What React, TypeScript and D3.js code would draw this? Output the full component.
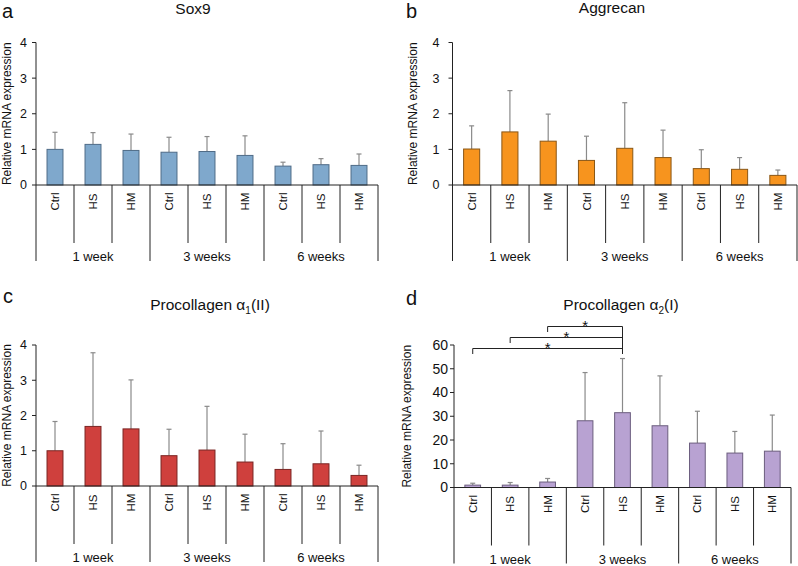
import React from "react";
import * as d3 from "d3";

// ---------- data ----------
const conditions = ["Ctrl", "HS", "HM"];
const periods = ["1 week", "3 weeks", "6 weeks"];

const sox9Mean = [1.0, 1.14, 0.97, 0.92, 0.94, 0.83, 0.53, 0.57, 0.55];
const sox9Sd = [0.48, 0.33, 0.46, 0.42, 0.42, 0.55, 0.11, 0.17, 0.32];

const aggrecanMean = [1.01, 1.49, 1.23, 0.69, 1.03, 0.77, 0.46, 0.44, 0.27];
const aggrecanSd = [0.65, 1.16, 0.76, 0.68, 1.28, 0.77, 0.53, 0.33, 0.15];

const col2a1Mean = [1.0, 1.69, 1.62, 0.86, 1.02, 0.68, 0.47, 0.63, 0.3];
const col2a1Sd = [0.83, 2.09, 1.39, 0.75, 1.24, 0.79, 0.73, 0.93, 0.29];

const col1a2Mean = [1.0, 1.0, 2.3, 28.1, 31.5, 26.0, 18.7, 14.5, 15.3];
const col1a2Sd = [0.8, 1.1, 1.5, 20.3, 22.8, 21.0, 13.4, 9.1, 15.2];

const ticks0to4 = [0, 1, 2, 3, 4];
const ticks0to60 = [0, 10, 20, 30, 40, 50, 60];

// significance brackets in panel d: [from bar, to bar]
const sigPairs = [
  [0, 4],
  [1, 4],
  [2, 4],
];
const sigLabels = ["*", "*", "*"];

const yLabel = "Relative mRNA expression";
const FONT = "Arial, 'Liberation Sans', sans-serif";

const categories = periods.flatMap((p) => conditions.map((c) => `${p}|${c}`));

type PanelProps = {
  letter: string;
  title: React.ReactNode;
  mean: number[];
  sd: number[];
  ticks: number[];
  fill: string;
  stroke: string;
  x0: number;
  x1: number;
  yTop: number;
  yBottom: number;
  titleX: number;
  titleY: number;
  letterX: number;
  letterY: number;
  labelX: number;
  tickGap: number;
  tickFont: number;
  sig?: boolean;
};

function Panel(p: PanelProps) {
  const x = d3.scaleBand<string>().domain(categories).range([p.x0, p.x1]).padding(0);
  const maxT = d3.max(p.ticks) as number;
  const y = d3.scaleLinear().domain([0, maxT]).range([p.yBottom, p.yTop]);
  const bw = x.bandwidth();
  const barW = bw * 0.42;
  const nodes: React.ReactNode[] = [];

  // bars + error bars
  categories.forEach((c, i) => {
    const cx = (x(c) as number) + bw / 2;
    const m = p.mean[i];
    const top = m + p.sd[i];
    nodes.push(
      <line key={"e" + i} x1={cx} x2={cx} y1={y(m)} y2={y(top)} stroke="#8a8a8a" strokeWidth={1.2} />,
      <line key={"ec" + i} x1={cx - 2.5} x2={cx + 2.5} y1={y(top)} y2={y(top)} stroke="#8a8a8a" strokeWidth={1.2} />,
      <rect key={"b" + i} x={cx - barW / 2} y={y(m)} width={barW} height={p.yBottom - y(m)} fill={p.fill} stroke={p.stroke} strokeWidth={1} />
    );
  });

  // y axis
  nodes.push(<line key="ya" x1={p.x0} x2={p.x0} y1={p.yTop} y2={p.yBottom} stroke="#222" strokeWidth={1} />);
  p.ticks.forEach((t) => {
    nodes.push(
      <line key={"t" + t} x1={p.x0 - 4} x2={p.x0} y1={y(t)} y2={y(t)} stroke="#222" strokeWidth={1} />,
      <text key={"tl" + t} x={p.x0 - p.tickGap} y={y(t)} dy="0.35em" textAnchor="end" fontSize={p.tickFont} fontFamily={FONT} fill="#111">
        {t}
      </text>
    );
  });

  // x axis
  nodes.push(<line key="xa" x1={p.x0} x2={p.x1} y1={p.yBottom} y2={p.yBottom} stroke="#222" strokeWidth={1} />);
  for (let i = 0; i <= categories.length; i++) {
    const bx = p.x0 + i * bw;
    const long = i % 3 === 0;
    nodes.push(
      <line key={"s" + i} x1={bx} x2={bx} y1={p.yBottom} y2={p.yBottom + (long ? 76 : 58)} stroke="#222" strokeWidth={1} />
    );
  }
  categories.forEach((c, i) => {
    const cx = (x(c) as number) + bw / 2;
    const ty = p.yBottom + 16.5;
    nodes.push(
      <text key={"cl" + i} transform={`translate(${cx},${ty}) rotate(-90)`} textAnchor="middle" dy="0.35em" fontSize={11.5} fontFamily={FONT} fill="#111">
        {conditions[i % 3]}
      </text>
    );
  });
  periods.forEach((per, g) => {
    const gx = p.x0 + (g * 3 + 1.5) * bw;
    nodes.push(
      <text key={"g" + g} x={gx} y={p.yBottom + 76} textAnchor="middle" fontSize={13} fontFamily={FONT} fill="#111">
        {per}
      </text>
    );
  });

  // y label
  nodes.push(
    <text key="yl" transform={`translate(${p.labelX},${(p.yTop + p.yBottom) / 2}) rotate(-90)`} textAnchor="middle" fontSize={12} fontFamily={FONT} fill="#111">
      {yLabel}
    </text>
  );

  // title + letter
  nodes.push(
    <text key="ti" x={p.titleX} y={p.titleY} textAnchor="middle" fontSize={15.5} fontFamily={FONT} fill="#111">
      {p.title}
    </text>,
    <text key="le" x={p.letterX} y={p.letterY} fontSize={20} fontFamily={FONT} fill="#111">
      {p.letter}
    </text>
  );

  // significance brackets
  if (p.sig) {
    sigPairs.forEach(([a, b], k) => {
      const xa = (x(categories[a]) as number) + bw / 2;
      const xb = (x(categories[b]) as number) + bw / 2;
      const by = p.yTop + 3.5 - k * 11;
      nodes.push(
        <path key={"sg" + k} d={`M${xa},${by + 5.5} V${by} H${xb} V${p.yTop + 9}`} fill="none" stroke="#222" strokeWidth={1} />,
        <text key={"sgt" + k} x={(xa + xb) / 2} y={by + 4} textAnchor="middle" fontSize={15} fontFamily={FONT} fill="#111">
          {sigLabels[k]}
        </text>
      );
    });
  }

  return <g>{nodes}</g>;
}

export default function App() {
  return (
    <svg width={798} height={566} style={{ display: "block", position: "absolute", left: 0, top: 0, background: "#fff" }}>
      <rect width={798} height={566} fill="#fff" />
      <Panel
        letter="a"
        title="Sox9"
        mean={sox9Mean}
        sd={sox9Sd}
        ticks={ticks0to4}
        fill="#7fa8cc"
        stroke="#4f6b87"
        x0={36}
        x1={378}
        yTop={42.5}
        yBottom={185}
        titleX={193}
        titleY={14}
        letterX={2}
        letterY={18}
        labelX={11}
        tickGap={9}
        tickFont={12.5}
      />
      <Panel
        letter="b"
        title="Aggrecan"
        mean={aggrecanMean}
        sd={aggrecanSd}
        ticks={ticks0to4}
        fill="#f7941e"
        stroke="#8a5716"
        x0={452.5}
        x1={797}
        yTop={42.5}
        yBottom={185}
        titleX={612}
        titleY={13}
        letterX={406}
        letterY={18}
        labelX={417}
        tickGap={13}
        tickFont={12.5}
      />
      <Panel
        letter="c"
        title={
          <>
            Procollagen α<tspan fontSize={10} dy={4}>1</tspan>
            <tspan dy={-4}>(II)</tspan>
          </>
        }
        mean={col2a1Mean}
        sd={col2a1Sd}
        ticks={ticks0to4}
        fill="#cf403d"
        stroke="#7a2523"
        x0={36}
        x1={378}
        yTop={345}
        yBottom={486}
        titleX={210}
        titleY={310}
        letterX={3}
        letterY={303}
        labelX={11}
        tickGap={9}
        tickFont={12.5}
      />
      <Panel
        letter="d"
        title={
          <>
            Procollagen α<tspan fontSize={10} dy={4}>2</tspan>
            <tspan dy={-4}>(I)</tspan>
          </>
        }
        mean={col1a2Mean}
        sd={col1a2Sd}
        ticks={ticks0to60}
        fill="#b8a2d2"
        stroke="#6b5d7e"
        x0={454}
        x1={791}
        yTop={345}
        yBottom={487.5}
        titleX={621}
        titleY={310}
        letterX={406}
        letterY={305}
        labelX={411}
        tickGap={6}
        tickFont={14}
        sig
      />
    </svg>
  );
}
